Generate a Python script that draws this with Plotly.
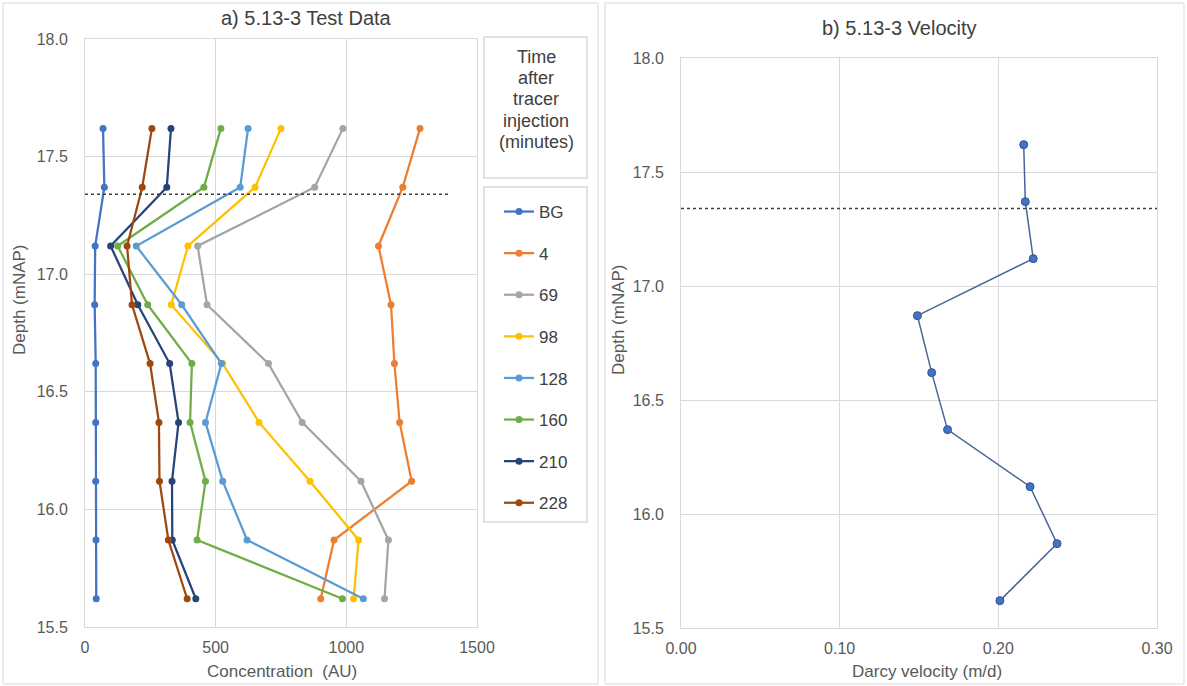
import plotly.graph_objects as go

# ---------------- data ----------------
depth = [17.62, 17.37, 17.12, 16.87, 16.62, 16.37, 16.12, 15.87, 15.62]

series_names = ["BG", "4", "69", "98", "128", "160", "210", "228"]
conc_bg = [69, 74, 39, 37, 41, 41, 41, 42, 43]
conc_4 = [1282, 1216, 1123, 1171, 1184, 1204, 1250, 953, 902]
conc_69 = [987, 879, 431, 467, 702, 831, 1056, 1161, 1146]
conc_98 = [750, 651, 394, 330, 527, 666, 861, 1047, 1028]
conc_128 = [624, 594, 196, 370, 522, 461, 527, 620, 1065]
conc_160 = [520, 455, 125, 240, 409, 402, 461, 429, 985]
conc_210 = [329, 313, 98, 202, 324, 358, 333, 334, 424]
conc_228 = [256, 219, 161, 180, 249, 283, 285, 319, 391]

darcy_velocity = [0.216, 0.217, 0.222, 0.149, 0.158, 0.168, 0.220, 0.237, 0.201]

water_level = 17.34
water_line_conc_x = [0, 1400]
water_line_vel_x = [0, 0.30]

legend_title_lines = ["Time", "after", "tracer", "injection", "(minutes)"]

series_values = [conc_bg, conc_4, conc_69, conc_98, conc_128, conc_160, conc_210, conc_228]
series_colors = ["#4472C4", "#ED7D31", "#A5A5A5", "#FFC000", "#5B9BD5", "#70AD47", "#264478", "#9E480E"]

FONT = "Liberation Sans, Arial, sans-serif"
TICK_C = "#595959"
TEXT_C = "#404040"
GRID_C = "#D9D9D9"

W, H = 1187, 686
def px(x):
    return x / W
def py(y):
    return 1 - y / H

fig = go.Figure()

for name, vals, col in zip(series_names, series_values, series_colors):
    fig.add_trace(go.Scatter(
        x=vals, y=depth, name=name, mode="lines+markers",
        line=dict(color=col, width=2.25),
        marker=dict(color=col, size=7),
        legendgroup=name, xaxis="x", yaxis="y",
    ))

fig.add_trace(go.Scatter(
    x=water_line_conc_x, y=[water_level, water_level], mode="lines",
    line=dict(color="#404040", width=1.5, dash="dot"),
    showlegend=False, xaxis="x", yaxis="y", hoverinfo="skip",
))

fig.add_trace(go.Scatter(
    x=darcy_velocity, y=depth, mode="lines+markers", name="Darcy velocity",
    line=dict(color="#4A6598", width=1.5),
    marker=dict(color="#4472C4", size=8, line=dict(color="#2F528F", width=1)),
    showlegend=False, xaxis="x2", yaxis="y2",
))
fig.add_trace(go.Scatter(
    x=water_line_vel_x, y=[water_level, water_level], mode="lines",
    line=dict(color="#404040", width=1.5, dash="dot"),
    showlegend=False, xaxis="x2", yaxis="y2", hoverinfo="skip",
))

axis_common = dict(
    showgrid=True, gridcolor=GRID_C, gridwidth=1, automargin=False,
    zeroline=False, showline=True, linecolor=GRID_C, linewidth=1, mirror=True,
    ticks="", tickfont=dict(family=FONT, size=16, color=TICK_C),
)

fig.update_layout(
    width=W, height=H,
    margin=dict(l=0, r=0, t=0, b=0, autoexpand=False),
    paper_bgcolor="white", plot_bgcolor="white",
    font=dict(family=FONT, color=TICK_C),
    xaxis=dict(domain=[px(85), px(477)], range=[0, 1500], dtick=500,
               ticklabelstandoff=6, anchor="y", **axis_common),
    yaxis=dict(domain=[py(627), py(39)], range=[15.5, 18.0], dtick=0.5, tickformat=".1f",
               ticklabelstandoff=13, anchor="x", **axis_common),
    xaxis2=dict(domain=[px(681), px(1157)], range=[0, 0.30], dtick=0.1, tickformat=".2f",
                ticklabelstandoff=6, anchor="y2", **axis_common),
    yaxis2=dict(domain=[py(628), py(58)], range=[15.5, 18.0], dtick=0.5, tickformat=".1f",
                ticklabelstandoff=13, anchor="x2", **axis_common),
    showlegend=True,
    legend=dict(
        x=px(499), y=py(194), xanchor="left", yanchor="top",
        bgcolor="rgba(0,0,0,0)", borderwidth=0,
        font=dict(family=FONT, size=17, color=TEXT_C),
        tracegroupgap=16.5, itemwidth=30,
    ),
)

# panel borders and legend boxes
shapes = [
    dict(type="rect", xref="paper", yref="paper", x0=px(3), x1=px(598), y0=py(684), y1=py(3),
         line=dict(color=GRID_C, width=1)),
    dict(type="rect", xref="paper", yref="paper", x0=px(605), x1=px(1184), y0=py(684), y1=py(3),
         line=dict(color=GRID_C, width=1)),
    dict(type="rect", xref="paper", yref="paper", x0=px(484), x1=px(587), y0=py(178), y1=py(37),
         line=dict(color=GRID_C, width=1.5)),
    dict(type="rect", xref="paper", yref="paper", x0=px(484), x1=px(587), y0=py(522), y1=py(187),
         line=dict(color=GRID_C, width=1.5)),
]
fig.update_layout(shapes=shapes)

def ann(text, x, y, size, color=TEXT_C, angle=0):
    return dict(text=text, x=px(x), y=py(y), xref="paper", yref="paper",
                xanchor="center", yanchor="middle", showarrow=False, textangle=angle,
                font=dict(family=FONT, size=size, color=color))

annotations = [
    ann("a) 5.13-3 Test Data", 307, 18, 20),
    ann("b) 5.13-3 Velocity", 899, 28, 20),
    ann("Concentration  (AU)", 282, 671, 17, TICK_C),
    ann("Darcy velocity (m/d)", 927, 671, 17, TICK_C),
    ann("Depth (mNAP)", 19, 300, 17, TICK_C, -90),
    ann("Depth (mNAP)", 619, 319, 17, TICK_C, -90),
]
for i, line in enumerate(legend_title_lines):
    annotations.append(ann(line, 536, 57 + 21.2 * i, 18))
fig.update_layout(annotations=annotations)

fig.write_html("out.html", config={"displayModeBar": False},
               post_script="document.body.style.margin='0px';")
